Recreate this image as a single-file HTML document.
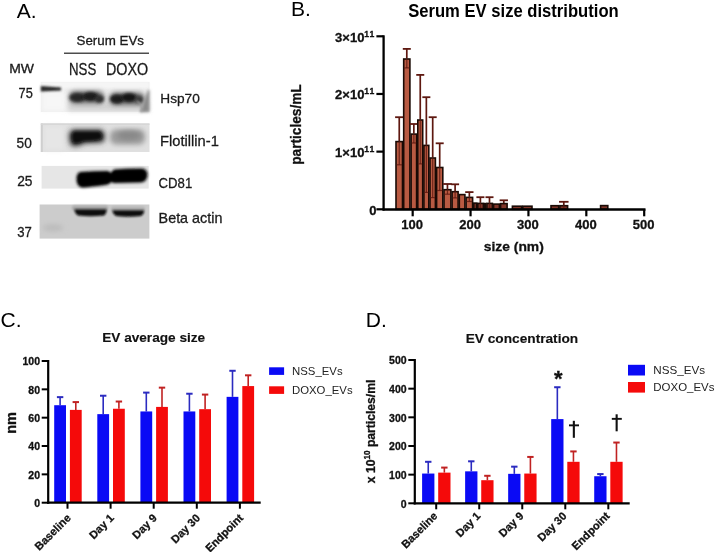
<!DOCTYPE html><html><head><meta charset="utf-8"><style>html,body{margin:0;padding:0;background:#fff;width:716px;height:552px;overflow:hidden}svg{display:block;will-change:transform}text{font-family:"Liberation Sans", sans-serif}text[font-weight="bold"]{stroke:#111;stroke-width:0.3px}text[fill="#1b1b1b"]{stroke:#1b1b1b;stroke-width:0.3px}</style></head><body>
<svg width="716" height="552" viewBox="0 0 716 552">
<defs><filter id="b1" x="-50%" y="-50%" width="200%" height="200%"><feGaussianBlur stdDeviation="1.6"/></filter><filter id="b2" x="-50%" y="-50%" width="200%" height="200%"><feGaussianBlur stdDeviation="2.5"/></filter><filter id="b3" x="-50%" y="-50%" width="200%" height="200%"><feGaussianBlur stdDeviation="1"/></filter><filter id="b4" x="-50%" y="-50%" width="200%" height="200%"><feGaussianBlur stdDeviation="4"/></filter></defs>
<rect width="716" height="552" fill="#fff"/>
<text x="16.8" y="18" font-size="21" font-weight="normal" text-anchor="start" fill="#000" >A.</text>
<text x="291" y="15.5" font-size="21" font-weight="normal" text-anchor="start" fill="#000" >B.</text>
<text x="0.6" y="326.8" font-size="21" font-weight="normal" text-anchor="start" fill="#000" >C.</text>
<text x="365.8" y="327.3" font-size="21" font-weight="normal" text-anchor="start" fill="#000" >D.</text>
<text x="76.5" y="45.4" font-size="13.3" font-weight="normal" text-anchor="start" fill="#1b1b1b" textLength="67.5" lengthAdjust="spacingAndGlyphs" >Serum EVs</text>
<rect x="64" y="52.6" width="85" height="1.2" fill="#222"/>
<text x="69.0" y="74.7" font-size="16.4" font-weight="normal" text-anchor="start" fill="#1b1b1b" textLength="27.2" lengthAdjust="spacingAndGlyphs" >NSS</text>
<text x="106.0" y="75.3" font-size="16.4" font-weight="normal" text-anchor="start" fill="#1b1b1b" textLength="42.2" lengthAdjust="spacingAndGlyphs" >DOXO</text>
<text x="9.2" y="73.4" font-size="12.5" font-weight="normal" text-anchor="start" fill="#1b1b1b" textLength="24.8" lengthAdjust="spacingAndGlyphs" >MW</text>
<text x="18.6" y="97.9" font-size="14.2" font-weight="normal" text-anchor="start" fill="#1b1b1b" textLength="14.2" lengthAdjust="spacingAndGlyphs" >75</text>
<text x="16.6" y="147.6" font-size="14.2" font-weight="normal" text-anchor="start" fill="#1b1b1b" textLength="15.2" lengthAdjust="spacingAndGlyphs" >50</text>
<text x="17.2" y="186" font-size="14.2" font-weight="normal" text-anchor="start" fill="#1b1b1b" textLength="15.3" lengthAdjust="spacingAndGlyphs" >25</text>
<text x="17.2" y="236.6" font-size="14.5" font-weight="normal" text-anchor="start" fill="#1b1b1b" textLength="14.6" lengthAdjust="spacingAndGlyphs" >37</text>
<text x="160.3" y="103.2" font-size="13.7" font-weight="normal" text-anchor="start" fill="#1b1b1b" textLength="39.5" lengthAdjust="spacingAndGlyphs" >Hsp70</text>
<text x="160.0" y="145.7" font-size="15" font-weight="normal" text-anchor="start" fill="#1b1b1b" textLength="58.8" lengthAdjust="spacingAndGlyphs" >Flotillin-1</text>
<text x="158.6" y="188.2" font-size="14.6" font-weight="normal" text-anchor="start" fill="#1b1b1b" textLength="33.6" lengthAdjust="spacingAndGlyphs" >CD81</text>
<text x="158.6" y="223.1" font-size="14.3" font-weight="normal" text-anchor="start" fill="#1b1b1b" textLength="63.8" lengthAdjust="spacingAndGlyphs" >Beta actin</text>
<rect x="40.8" y="82" width="108.7" height="30" fill="#eeeeee"/>
<rect x="41" y="82" width="108" height="6" fill="#f5f5f5" filter="url(#b3)"/>
<rect x="42" y="92" width="24" height="19" fill="#f7f7f7" filter="url(#b2)"/>
<rect x="68" y="102" width="80" height="9" fill="#d2d2d2" filter="url(#b2)"/>
<path d="M40.8,86 L61,87.5 L61,90.5 L40.8,91.5 Z" fill="#2a2a2a" filter="url(#b3)"/>
<rect x="69" y="91" width="35" height="12.5" rx="5.5" fill="#6a6a6a" filter="url(#b2)"/>
<ellipse cx="77.5" cy="97.5" rx="8" ry="4.6" fill="#262626" filter="url(#b1)"/>
<ellipse cx="90.5" cy="96.5" rx="8" ry="4.6" fill="#1a1a1a" filter="url(#b1)"/>
<ellipse cx="99.5" cy="99" rx="4.5" ry="3.8" fill="#2e2e2e" filter="url(#b1)"/>
<rect x="109.5" y="92.5" width="35" height="12.5" rx="5.5" fill="#676767" filter="url(#b2)"/>
<ellipse cx="117" cy="99" rx="7" ry="4.6" fill="#1e1e1e" filter="url(#b1)"/>
<ellipse cx="129" cy="97.5" rx="8" ry="4.6" fill="#181818" filter="url(#b1)"/>
<ellipse cx="139" cy="99.5" rx="4" ry="3.5" fill="#3a3a3a" filter="url(#b1)"/>
<path d="M148,90 L149.5,90 L149.5,112 L140,112 Q143,106 144,101 Z" fill="#8a8a8a" filter="url(#b1)"/>
<path d="M137,101 Q141,104 142,108 L141,112" stroke="#9a9a9a" stroke-width="1.6" fill="none" filter="url(#b3)"/>
<rect x="40.8" y="123.4" width="108.7" height="28.6" fill="#e0e0e0"/>
<rect x="44" y="126" width="20" height="24" fill="#e6e6e6" filter="url(#b2)"/>
<rect x="40.8" y="123.4" width="2" height="28.6" fill="#cfcfcf"/>
<rect x="40.8" y="123.4" width="108.7" height="1.5" fill="#d6d6d6"/>
<path d="M72,129.5 L101,129.5 Q105.5,131 105,138 Q104.5,143 99,143 L85,143.5 Q76,148 71,145.5 Q68,140 69,133 Z" fill="#3a3a3a" filter="url(#b2)"/>
<path d="M74,131.5 L99,131.5 Q102.5,133 102,138 Q100,141 84,141 Q76,144.5 73,142.5 Q71,138 72,134 Z" fill="#0e0e0e" filter="url(#b1)"/>
<rect x="110" y="129.5" width="35" height="15" rx="6" fill="#9c9c9c" filter="url(#b2)"/>
<ellipse cx="129" cy="135.5" rx="12" ry="4.5" fill="#888" filter="url(#b2)"/>
<rect x="41.6" y="165.9" width="107.1" height="22.7" fill="#e6e6e6"/>
<path d="M80,172 Q93,171 108,171 L111,173 L114,169.5 Q128,168.3 143,168.5 Q148,170 147.5,175.5 Q147,182 140,182.5 L114,183 L111,182 L108,184.5 Q90,187 82,187.5 Q76.5,186.5 76.5,179 Q76.5,173 80,172 Z" fill="#101010" filter="url(#b1)"/>
<path d="M81,173.5 Q93,172.5 108,172.5 L111,174.5 L114,171 Q128,170 142,170 Q146,171.5 145.5,175.5 Q145,180.5 140,181 L114,181.5 L111,180.5 L108,183 Q90,185.5 82,186 Q78,185 78,179 Q78,174.5 81,173.5 Z" fill="#000" filter="url(#b3)"/>
<rect x="39.6" y="204.5" width="109.8" height="34.1" fill="#cccccc"/>
<rect x="72" y="205.5" width="36" height="5" rx="2" fill="#aaaaaa" filter="url(#b3)"/>
<rect x="111" y="206.5" width="34" height="5" rx="2" fill="#b2b2b2" filter="url(#b3)"/>
<path d="M74.5,209.3 L106.5,209.3 Q107,213 104,215.5 Q90,217 78,215.5 Q74.5,213.5 74.5,209.3 Z" fill="#0a0a0a" filter="url(#b3)"/>
<path d="M112.5,210.3 L144,210.3 Q144.5,214 141,216 Q128,217.3 116,216 Q112.5,214 112.5,210.3 Z" fill="#0a0a0a" filter="url(#b3)"/>
<ellipse cx="53" cy="227.8" rx="10.5" ry="3.5" fill="#bbbbbb" filter="url(#b2)"/>
<text x="408.2" y="16.8" font-size="17.5" font-weight="bold" text-anchor="start" fill="#000" textLength="210.5" lengthAdjust="spacingAndGlyphs" style="stroke-width:0">Serum EV size distribution</text>
<line x1="399.25" y1="117.2" x2="399.25" y2="141" stroke="#5e1810" stroke-width="1.7"/>
<line x1="395.10" y1="117.2" x2="403.40" y2="117.2" stroke="#5e1810" stroke-width="1.8"/>
<rect x="396.00" y="141.60" width="6.50" height="67.70" fill="#b95a42" stroke="#1a0a05" stroke-width="1.6"/>
<line x1="399.25" y1="141" x2="399.25" y2="164.80" stroke="#5e1810" stroke-width="1.2" opacity="0.8"/>
<line x1="396.40" y1="164.80" x2="402.10" y2="164.80" stroke="#5e1810" stroke-width="1.2" opacity="0.8"/>
<line x1="406.80" y1="48.9" x2="406.80" y2="58.4" stroke="#5e1810" stroke-width="1.7"/>
<line x1="402.80" y1="48.9" x2="410.80" y2="48.9" stroke="#5e1810" stroke-width="1.8"/>
<rect x="403.70" y="59.00" width="6.20" height="150.30" fill="#b95a42" stroke="#1a0a05" stroke-width="1.6"/>
<line x1="406.80" y1="58.4" x2="406.80" y2="67.90" stroke="#5e1810" stroke-width="1.2" opacity="0.8"/>
<line x1="404.10" y1="67.90" x2="409.50" y2="67.90" stroke="#5e1810" stroke-width="1.2" opacity="0.8"/>
<line x1="413.85" y1="124" x2="413.85" y2="133.5" stroke="#5e1810" stroke-width="1.7"/>
<line x1="409.85" y1="124" x2="417.85" y2="124" stroke="#5e1810" stroke-width="1.8"/>
<rect x="411.10" y="134.10" width="5.50" height="75.20" fill="#b95a42" stroke="#1a0a05" stroke-width="1.6"/>
<line x1="413.85" y1="133.5" x2="413.85" y2="143.00" stroke="#5e1810" stroke-width="1.2" opacity="0.8"/>
<line x1="411.50" y1="143.00" x2="416.20" y2="143.00" stroke="#5e1810" stroke-width="1.2" opacity="0.8"/>
<line x1="420.25" y1="74.9" x2="420.25" y2="119.4" stroke="#5e1810" stroke-width="1.7"/>
<line x1="416.25" y1="74.9" x2="424.25" y2="74.9" stroke="#5e1810" stroke-width="1.8"/>
<rect x="417.80" y="120.00" width="4.90" height="89.30" fill="#b95a42" stroke="#1a0a05" stroke-width="1.6"/>
<line x1="420.25" y1="119.4" x2="420.25" y2="163.90" stroke="#5e1810" stroke-width="1.2" opacity="0.8"/>
<line x1="418.20" y1="163.90" x2="422.30" y2="163.90" stroke="#5e1810" stroke-width="1.2" opacity="0.8"/>
<line x1="426.35" y1="97.2" x2="426.35" y2="144.8" stroke="#5e1810" stroke-width="1.7"/>
<line x1="422.35" y1="97.2" x2="430.35" y2="97.2" stroke="#5e1810" stroke-width="1.8"/>
<rect x="423.90" y="145.40" width="4.90" height="63.90" fill="#b95a42" stroke="#1a0a05" stroke-width="1.6"/>
<line x1="426.35" y1="144.8" x2="426.35" y2="192.40" stroke="#5e1810" stroke-width="1.2" opacity="0.8"/>
<line x1="424.30" y1="192.40" x2="428.40" y2="192.40" stroke="#5e1810" stroke-width="1.2" opacity="0.8"/>
<line x1="432.70" y1="117.2" x2="432.70" y2="157.4" stroke="#5e1810" stroke-width="1.7"/>
<line x1="428.70" y1="117.2" x2="436.70" y2="117.2" stroke="#5e1810" stroke-width="1.8"/>
<rect x="430.00" y="158.00" width="5.40" height="51.30" fill="#b95a42" stroke="#1a0a05" stroke-width="1.6"/>
<line x1="432.70" y1="157.4" x2="432.70" y2="197.60" stroke="#5e1810" stroke-width="1.2" opacity="0.8"/>
<line x1="430.40" y1="197.60" x2="435.00" y2="197.60" stroke="#5e1810" stroke-width="1.2" opacity="0.8"/>
<line x1="439.70" y1="143.3" x2="439.70" y2="166.9" stroke="#5e1810" stroke-width="1.7"/>
<line x1="435.70" y1="143.3" x2="443.70" y2="143.3" stroke="#5e1810" stroke-width="1.8"/>
<rect x="436.60" y="167.50" width="6.20" height="41.80" fill="#b95a42" stroke="#1a0a05" stroke-width="1.6"/>
<line x1="439.70" y1="166.9" x2="439.70" y2="190.50" stroke="#5e1810" stroke-width="1.2" opacity="0.8"/>
<line x1="437.00" y1="190.50" x2="442.40" y2="190.50" stroke="#5e1810" stroke-width="1.2" opacity="0.8"/>
<line x1="447.45" y1="184" x2="447.45" y2="189.1" stroke="#5e1810" stroke-width="1.7"/>
<line x1="443.10" y1="184" x2="451.80" y2="184" stroke="#5e1810" stroke-width="1.8"/>
<rect x="444.00" y="189.70" width="6.90" height="19.60" fill="#b95a42" stroke="#1a0a05" stroke-width="1.6"/>
<line x1="447.45" y1="189.1" x2="447.45" y2="194.20" stroke="#5e1810" stroke-width="1.2" opacity="0.8"/>
<line x1="444.40" y1="194.20" x2="450.50" y2="194.20" stroke="#5e1810" stroke-width="1.2" opacity="0.8"/>
<line x1="455.10" y1="184.3" x2="455.10" y2="191.1" stroke="#5e1810" stroke-width="1.7"/>
<line x1="451.10" y1="184.3" x2="459.10" y2="184.3" stroke="#5e1810" stroke-width="1.8"/>
<rect x="452.10" y="191.70" width="6.00" height="17.60" fill="#b95a42" stroke="#1a0a05" stroke-width="1.6"/>
<line x1="455.10" y1="191.1" x2="455.10" y2="197.90" stroke="#5e1810" stroke-width="1.2" opacity="0.8"/>
<line x1="452.50" y1="197.90" x2="457.70" y2="197.90" stroke="#5e1810" stroke-width="1.2" opacity="0.8"/>
<rect x="459.30" y="194.60" width="5.60" height="14.70" fill="#b95a42" stroke="#1a0a05" stroke-width="1.6"/>
<line x1="469.35" y1="192.1" x2="469.35" y2="196.8" stroke="#5e1810" stroke-width="1.7"/>
<line x1="465.20" y1="192.1" x2="473.50" y2="192.1" stroke="#5e1810" stroke-width="1.8"/>
<rect x="466.10" y="197.40" width="6.50" height="11.90" fill="#b95a42" stroke="#1a0a05" stroke-width="1.6"/>
<line x1="469.35" y1="196.8" x2="469.35" y2="201.50" stroke="#5e1810" stroke-width="1.2" opacity="0.8"/>
<line x1="466.50" y1="201.50" x2="472.20" y2="201.50" stroke="#5e1810" stroke-width="1.2" opacity="0.8"/>
<rect x="473.80" y="203.10" width="2.80" height="6.20" fill="#80362a" stroke="#1a0a05" stroke-width="1.6"/>
<line x1="480.40" y1="197.2" x2="480.40" y2="202.8" stroke="#5e1810" stroke-width="1.7"/>
<line x1="476.40" y1="197.2" x2="484.40" y2="197.2" stroke="#5e1810" stroke-width="1.8"/>
<rect x="477.80" y="203.40" width="5.60" height="5.90" fill="#80362a" stroke="#1a0a05" stroke-width="1.6"/>
<line x1="480.40" y1="202.8" x2="480.40" y2="208.30" stroke="#5e1810" stroke-width="1.2" opacity="0.8"/>
<line x1="478.20" y1="208.30" x2="483.00" y2="208.30" stroke="#5e1810" stroke-width="1.2" opacity="0.8"/>
<rect x="484.60" y="203.60" width="1.10" height="5.70" fill="#80362a" stroke="#1a0a05" stroke-width="1.6"/>
<line x1="489.50" y1="197.2" x2="489.50" y2="202.8" stroke="#5e1810" stroke-width="1.7"/>
<line x1="485.50" y1="197.2" x2="493.50" y2="197.2" stroke="#5e1810" stroke-width="1.8"/>
<rect x="486.90" y="203.40" width="5.50" height="5.90" fill="#80362a" stroke="#1a0a05" stroke-width="1.6"/>
<line x1="489.50" y1="202.8" x2="489.50" y2="208.30" stroke="#5e1810" stroke-width="1.2" opacity="0.8"/>
<line x1="487.30" y1="208.30" x2="492.00" y2="208.30" stroke="#5e1810" stroke-width="1.2" opacity="0.8"/>
<rect x="493.60" y="204.10" width="5.80" height="5.20" fill="#80362a" stroke="#1a0a05" stroke-width="1.6"/>
<line x1="503.80" y1="200.3" x2="503.80" y2="203.0" stroke="#5e1810" stroke-width="1.7"/>
<line x1="499.65" y1="200.3" x2="507.95" y2="200.3" stroke="#5e1810" stroke-width="1.8"/>
<rect x="500.60" y="203.60" width="6.50" height="5.70" fill="#80362a" stroke="#1a0a05" stroke-width="1.6"/>
<rect x="512.40" y="206.20" width="9.20" height="3.10" fill="#80362a" stroke="#1a0a05" stroke-width="1.6"/>
<rect x="522.80" y="206.20" width="9.20" height="3.10" fill="#80362a" stroke="#1a0a05" stroke-width="1.6"/>
<rect x="551.00" y="205.70" width="7.70" height="3.60" fill="#80362a" stroke="#1a0a05" stroke-width="1.6"/>
<line x1="563.80" y1="201.8" x2="563.80" y2="205.1" stroke="#5e1810" stroke-width="1.7"/>
<line x1="559.05" y1="201.8" x2="568.55" y2="201.8" stroke="#5e1810" stroke-width="1.8"/>
<rect x="559.90" y="205.70" width="7.70" height="3.60" fill="#80362a" stroke="#1a0a05" stroke-width="1.6"/>
<line x1="563.80" y1="205.1" x2="563.80" y2="208.30" stroke="#5e1810" stroke-width="1.2" opacity="0.8"/>
<line x1="560.30" y1="208.30" x2="567.20" y2="208.30" stroke="#5e1810" stroke-width="1.2" opacity="0.8"/>
<rect x="600.60" y="205.60" width="7.20" height="3.70" fill="#80362a" stroke="#1a0a05" stroke-width="1.6"/>
<line x1="383.6" y1="35.3" x2="383.6" y2="210.5" stroke="#000" stroke-width="2.3"/>
<line x1="382.6" y1="209.5" x2="645.5" y2="209.5" stroke="#000" stroke-width="2.7"/>
<line x1="376.4" y1="209.30" x2="383.6" y2="209.30" stroke="#000" stroke-width="2.2"/>
<line x1="376.4" y1="151.63" x2="383.6" y2="151.63" stroke="#000" stroke-width="2.2"/>
<line x1="376.4" y1="93.97" x2="383.6" y2="93.97" stroke="#000" stroke-width="2.2"/>
<line x1="376.4" y1="36.30" x2="383.6" y2="36.30" stroke="#000" stroke-width="2.2"/>
<line x1="412.68" y1="209.3" x2="412.68" y2="216.3" stroke="#000" stroke-width="2.2"/>
<text x="412.18" y="228.7" font-size="13" font-weight="bold" text-anchor="middle" fill="#111" >100</text>
<line x1="470.56" y1="209.3" x2="470.56" y2="216.3" stroke="#000" stroke-width="2.2"/>
<text x="470.06" y="228.7" font-size="13" font-weight="bold" text-anchor="middle" fill="#111" >200</text>
<line x1="528.44" y1="209.3" x2="528.44" y2="216.3" stroke="#000" stroke-width="2.2"/>
<text x="527.94" y="228.7" font-size="13" font-weight="bold" text-anchor="middle" fill="#111" >300</text>
<line x1="586.32" y1="209.3" x2="586.32" y2="216.3" stroke="#000" stroke-width="2.2"/>
<text x="585.82" y="228.7" font-size="13" font-weight="bold" text-anchor="middle" fill="#111" >400</text>
<line x1="644.20" y1="209.3" x2="644.20" y2="216.3" stroke="#000" stroke-width="2.2"/>
<text x="643.70" y="228.7" font-size="13" font-weight="bold" text-anchor="middle" fill="#111" >500</text>
<text x="364.4" y="157.13" font-size="13" font-weight="bold" text-anchor="end" fill="#111">1×10</text>
<text x="364.3" y="152.13" font-size="8.6" font-weight="bold" letter-spacing="1" fill="#111">11</text>
<text x="364.4" y="99.47" font-size="13" font-weight="bold" text-anchor="end" fill="#111">2×10</text>
<text x="364.3" y="94.47" font-size="8.6" font-weight="bold" letter-spacing="1" fill="#111">11</text>
<text x="364.4" y="41.80" font-size="13" font-weight="bold" text-anchor="end" fill="#111">3×10</text>
<text x="364.3" y="36.80" font-size="8.6" font-weight="bold" letter-spacing="1" fill="#111">11</text>
<text x="376.6" y="214.6" font-size="13" font-weight="bold" text-anchor="end" fill="#111" >0</text>
<text x="483.8" y="250.7" font-size="13.5" font-weight="bold" text-anchor="start" fill="#111" textLength="60" lengthAdjust="spacingAndGlyphs" >size (nm)</text>
<text x="0" y="0" font-size="14.2" font-weight="bold" fill="#111" textLength="80.5" lengthAdjust="spacingAndGlyphs" stroke="#111" stroke-width="0.35" transform="translate(300.9,164.8) rotate(-90)">particles/mL</text>
<line x1="60.10" y1="397.13" x2="60.10" y2="405.21" stroke="#2b2bc0" stroke-width="1.6"/>
<line x1="56.90" y1="397.13" x2="63.30" y2="397.13" stroke="#2b2bc0" stroke-width="2"/>
<rect x="54.20" y="405.21" width="11.8" height="97.49" fill="#0a0af5"/>
<line x1="75.80" y1="402.09" x2="75.80" y2="409.89" stroke="#c02222" stroke-width="1.6"/>
<line x1="72.60" y1="402.09" x2="79.00" y2="402.09" stroke="#c02222" stroke-width="2"/>
<rect x="69.90" y="409.89" width="11.8" height="92.81" fill="#f50a0a"/>
<line x1="103.20" y1="395.72" x2="103.20" y2="414.14" stroke="#2b2bc0" stroke-width="1.6"/>
<line x1="100.00" y1="395.72" x2="106.40" y2="395.72" stroke="#2b2bc0" stroke-width="2"/>
<rect x="97.30" y="414.14" width="11.8" height="88.56" fill="#0a0af5"/>
<line x1="118.90" y1="401.53" x2="118.90" y2="408.75" stroke="#c02222" stroke-width="1.6"/>
<line x1="115.70" y1="401.53" x2="122.10" y2="401.53" stroke="#c02222" stroke-width="2"/>
<rect x="113.00" y="408.75" width="11.8" height="93.95" fill="#f50a0a"/>
<line x1="146.30" y1="392.60" x2="146.30" y2="411.45" stroke="#2b2bc0" stroke-width="1.6"/>
<line x1="143.10" y1="392.60" x2="149.50" y2="392.60" stroke="#2b2bc0" stroke-width="2"/>
<rect x="140.40" y="411.45" width="11.8" height="91.25" fill="#0a0af5"/>
<line x1="162.00" y1="387.64" x2="162.00" y2="406.91" stroke="#c02222" stroke-width="1.6"/>
<line x1="158.80" y1="387.64" x2="165.20" y2="387.64" stroke="#c02222" stroke-width="2"/>
<rect x="156.10" y="406.91" width="11.8" height="95.79" fill="#f50a0a"/>
<line x1="189.40" y1="393.73" x2="189.40" y2="411.45" stroke="#2b2bc0" stroke-width="1.6"/>
<line x1="186.20" y1="393.73" x2="192.60" y2="393.73" stroke="#2b2bc0" stroke-width="2"/>
<rect x="183.50" y="411.45" width="11.8" height="91.25" fill="#0a0af5"/>
<line x1="205.10" y1="394.58" x2="205.10" y2="409.18" stroke="#c02222" stroke-width="1.6"/>
<line x1="201.90" y1="394.58" x2="208.30" y2="394.58" stroke="#c02222" stroke-width="2"/>
<rect x="199.20" y="409.18" width="11.8" height="93.52" fill="#f50a0a"/>
<line x1="232.50" y1="370.78" x2="232.50" y2="396.85" stroke="#2b2bc0" stroke-width="1.6"/>
<line x1="229.30" y1="370.78" x2="235.70" y2="370.78" stroke="#2b2bc0" stroke-width="2"/>
<rect x="226.60" y="396.85" width="11.8" height="105.85" fill="#0a0af5"/>
<line x1="248.20" y1="375.31" x2="248.20" y2="386.08" stroke="#c02222" stroke-width="1.6"/>
<line x1="245.00" y1="375.31" x2="251.40" y2="375.31" stroke="#c02222" stroke-width="2"/>
<rect x="242.30" y="386.08" width="11.8" height="116.62" fill="#f50a0a"/>
<line x1="48.2" y1="360" x2="48.2" y2="503.8" stroke="#000" stroke-width="2.2"/>
<line x1="47.1" y1="502.7" x2="260.7" y2="502.7" stroke="#000" stroke-width="2.2"/>
<line x1="41.7" y1="502.70" x2="48.2" y2="502.70" stroke="#000" stroke-width="2"/>
<text x="40.0" y="506.90" font-size="10.5" font-weight="bold" text-anchor="end" fill="#111">0</text>
<line x1="41.7" y1="474.36" x2="48.2" y2="474.36" stroke="#000" stroke-width="2"/>
<text x="40.0" y="478.56" font-size="10.5" font-weight="bold" text-anchor="end" fill="#111">20</text>
<line x1="41.7" y1="446.02" x2="48.2" y2="446.02" stroke="#000" stroke-width="2"/>
<text x="40.0" y="450.22" font-size="10.5" font-weight="bold" text-anchor="end" fill="#111">40</text>
<line x1="41.7" y1="417.68" x2="48.2" y2="417.68" stroke="#000" stroke-width="2"/>
<text x="40.0" y="421.88" font-size="10.5" font-weight="bold" text-anchor="end" fill="#111">60</text>
<line x1="41.7" y1="389.34" x2="48.2" y2="389.34" stroke="#000" stroke-width="2"/>
<text x="40.0" y="393.54" font-size="10.5" font-weight="bold" text-anchor="end" fill="#111">80</text>
<line x1="41.7" y1="361.00" x2="48.2" y2="361.00" stroke="#000" stroke-width="2"/>
<text x="40.0" y="365.20" font-size="10.5" font-weight="bold" text-anchor="end" fill="#111">100</text>
<line x1="67.50" y1="502.7" x2="67.50" y2="508.7" stroke="#000" stroke-width="2"/>
<text x="0" y="0" font-size="11.1" font-weight="bold" text-anchor="end" fill="#111" transform="translate(71.50,518.70) rotate(-45)">Baseline</text>
<line x1="110.60" y1="502.7" x2="110.60" y2="508.7" stroke="#000" stroke-width="2"/>
<text x="0" y="0" font-size="11.1" font-weight="bold" text-anchor="end" fill="#111" transform="translate(114.60,518.70) rotate(-45)">Day 1</text>
<line x1="153.70" y1="502.7" x2="153.70" y2="508.7" stroke="#000" stroke-width="2"/>
<text x="0" y="0" font-size="11.1" font-weight="bold" text-anchor="end" fill="#111" transform="translate(157.70,518.70) rotate(-45)">Day 9</text>
<line x1="196.80" y1="502.7" x2="196.80" y2="508.7" stroke="#000" stroke-width="2"/>
<text x="0" y="0" font-size="11.1" font-weight="bold" text-anchor="end" fill="#111" transform="translate(200.80,518.70) rotate(-45)">Day 30</text>
<line x1="239.90" y1="502.7" x2="239.90" y2="508.7" stroke="#000" stroke-width="2"/>
<text x="0" y="0" font-size="11.1" font-weight="bold" text-anchor="end" fill="#111" transform="translate(243.90,518.70) rotate(-45)">Endpoint</text>
<line x1="428.25" y1="461.80" x2="428.25" y2="473.55" stroke="#2b2bc0" stroke-width="1.6"/>
<line x1="425.05" y1="461.80" x2="431.45" y2="461.80" stroke="#2b2bc0" stroke-width="2"/>
<rect x="422.10" y="473.55" width="12.3" height="29.75" fill="#0a0af5"/>
<line x1="444.35" y1="467.59" x2="444.35" y2="472.63" stroke="#c02222" stroke-width="1.6"/>
<line x1="441.15" y1="467.59" x2="447.55" y2="467.59" stroke="#c02222" stroke-width="2"/>
<rect x="438.20" y="472.63" width="12.3" height="30.67" fill="#f50a0a"/>
<line x1="471.28" y1="461.31" x2="471.28" y2="471.34" stroke="#2b2bc0" stroke-width="1.6"/>
<line x1="468.08" y1="461.31" x2="474.48" y2="461.31" stroke="#2b2bc0" stroke-width="2"/>
<rect x="465.13" y="471.34" width="12.3" height="31.96" fill="#0a0af5"/>
<line x1="487.38" y1="475.79" x2="487.38" y2="480.20" stroke="#c02222" stroke-width="1.6"/>
<line x1="484.18" y1="475.79" x2="490.58" y2="475.79" stroke="#c02222" stroke-width="2"/>
<rect x="481.23" y="480.20" width="12.3" height="23.10" fill="#f50a0a"/>
<line x1="514.31" y1="466.67" x2="514.31" y2="473.84" stroke="#2b2bc0" stroke-width="1.6"/>
<line x1="511.11" y1="466.67" x2="517.51" y2="466.67" stroke="#2b2bc0" stroke-width="2"/>
<rect x="508.16" y="473.84" width="12.3" height="29.46" fill="#0a0af5"/>
<line x1="530.41" y1="456.93" x2="530.41" y2="473.55" stroke="#c02222" stroke-width="1.6"/>
<line x1="527.21" y1="456.93" x2="533.61" y2="456.93" stroke="#c02222" stroke-width="2"/>
<rect x="524.26" y="473.55" width="12.3" height="29.75" fill="#f50a0a"/>
<line x1="557.34" y1="387.23" x2="557.34" y2="419.10" stroke="#2b2bc0" stroke-width="1.6"/>
<line x1="554.14" y1="387.23" x2="560.54" y2="387.23" stroke="#2b2bc0" stroke-width="2"/>
<rect x="551.19" y="419.10" width="12.3" height="84.20" fill="#0a0af5"/>
<line x1="573.44" y1="451.43" x2="573.44" y2="461.80" stroke="#c02222" stroke-width="1.6"/>
<line x1="570.24" y1="451.43" x2="576.64" y2="451.43" stroke="#c02222" stroke-width="2"/>
<rect x="567.29" y="461.80" width="12.3" height="41.50" fill="#f50a0a"/>
<line x1="600.37" y1="474.07" x2="600.37" y2="476.24" stroke="#2b2bc0" stroke-width="1.6"/>
<line x1="597.17" y1="474.07" x2="603.57" y2="474.07" stroke="#2b2bc0" stroke-width="2"/>
<rect x="594.22" y="476.24" width="12.3" height="27.06" fill="#0a0af5"/>
<line x1="616.47" y1="442.54" x2="616.47" y2="461.80" stroke="#c02222" stroke-width="1.6"/>
<line x1="613.27" y1="442.54" x2="619.67" y2="442.54" stroke="#c02222" stroke-width="2"/>
<rect x="610.32" y="461.80" width="12.3" height="41.50" fill="#f50a0a"/>
<line x1="414.8" y1="359" x2="414.8" y2="504.40000000000003" stroke="#000" stroke-width="2.2"/>
<line x1="413.7" y1="503.3" x2="629.7" y2="503.3" stroke="#000" stroke-width="2.2"/>
<line x1="408.3" y1="503.30" x2="414.8" y2="503.30" stroke="#000" stroke-width="2"/>
<text x="406.6" y="507.50" font-size="10.5" font-weight="bold" text-anchor="end" fill="#111">0</text>
<line x1="408.3" y1="474.64" x2="414.8" y2="474.64" stroke="#000" stroke-width="2"/>
<text x="406.6" y="478.84" font-size="10.5" font-weight="bold" text-anchor="end" fill="#111">100</text>
<line x1="408.3" y1="445.98" x2="414.8" y2="445.98" stroke="#000" stroke-width="2"/>
<text x="406.6" y="450.18" font-size="10.5" font-weight="bold" text-anchor="end" fill="#111">200</text>
<line x1="408.3" y1="417.32" x2="414.8" y2="417.32" stroke="#000" stroke-width="2"/>
<text x="406.6" y="421.52" font-size="10.5" font-weight="bold" text-anchor="end" fill="#111">300</text>
<line x1="408.3" y1="388.66" x2="414.8" y2="388.66" stroke="#000" stroke-width="2"/>
<text x="406.6" y="392.86" font-size="10.5" font-weight="bold" text-anchor="end" fill="#111">400</text>
<line x1="408.3" y1="360.00" x2="414.8" y2="360.00" stroke="#000" stroke-width="2"/>
<text x="406.6" y="364.20" font-size="10.5" font-weight="bold" text-anchor="end" fill="#111">500</text>
<line x1="436.20" y1="503.3" x2="436.20" y2="509.3" stroke="#000" stroke-width="2"/>
<text x="0" y="0" font-size="11.1" font-weight="bold" text-anchor="end" fill="#111" transform="translate(438.20,516.70) rotate(-45)">Baseline</text>
<line x1="479.23" y1="503.3" x2="479.23" y2="509.3" stroke="#000" stroke-width="2"/>
<text x="0" y="0" font-size="11.1" font-weight="bold" text-anchor="end" fill="#111" transform="translate(481.23,516.70) rotate(-45)">Day 1</text>
<line x1="522.26" y1="503.3" x2="522.26" y2="509.3" stroke="#000" stroke-width="2"/>
<text x="0" y="0" font-size="11.1" font-weight="bold" text-anchor="end" fill="#111" transform="translate(524.26,516.70) rotate(-45)">Day 9</text>
<line x1="565.29" y1="503.3" x2="565.29" y2="509.3" stroke="#000" stroke-width="2"/>
<text x="0" y="0" font-size="11.1" font-weight="bold" text-anchor="end" fill="#111" transform="translate(567.29,516.70) rotate(-45)">Day 30</text>
<line x1="608.32" y1="503.3" x2="608.32" y2="509.3" stroke="#000" stroke-width="2"/>
<text x="0" y="0" font-size="11.1" font-weight="bold" text-anchor="end" fill="#111" transform="translate(610.32,516.70) rotate(-45)">Endpoint</text>
<text x="102.2" y="342.3" font-size="13.7" font-weight="bold" text-anchor="start" fill="#111" textLength="103" lengthAdjust="spacingAndGlyphs" style="stroke-width:0.15px">EV average size</text>
<text x="465.7" y="342.8" font-size="13.7" font-weight="bold" text-anchor="start" fill="#111" textLength="112.5" lengthAdjust="spacingAndGlyphs" style="stroke-width:0.15px">EV concentration</text>
<text x="0" y="0" font-size="14.5" font-weight="bold" fill="#111" transform="translate(16.3,433.8) rotate(-90)">nm</text>
<text x="0" y="0" font-size="12.15" font-weight="bold" fill="#111" transform="translate(375.4,483.2) rotate(-90)">x 10<tspan font-size="8.2" dy="-5.6">10</tspan><tspan dy="5.6"> particles/ml</tspan></text>
<rect x="269.1" y="367.3" width="15" height="7.6" fill="#0a0af5"/>
<rect x="269.1" y="386.3" width="15" height="7.6" fill="#f50a0a"/>
<rect x="628" y="364.8" width="17" height="10.7" fill="#0a0af5"/>
<rect x="628" y="382" width="17" height="10.6" fill="#f50a0a"/>
<text x="292.0" y="374.8" font-size="11.2" font-weight="normal" text-anchor="start" fill="#222" textLength="50.6" lengthAdjust="spacingAndGlyphs" >NSS_EVs</text>
<text x="292.0" y="393.8" font-size="11.2" font-weight="normal" text-anchor="start" fill="#222" textLength="60.6" lengthAdjust="spacingAndGlyphs" >DOXO_EVs</text>
<text x="653.3" y="374.1" font-size="11.5" font-weight="normal" text-anchor="start" fill="#222" textLength="51.8" lengthAdjust="spacingAndGlyphs" >NSS_EVs</text>
<text x="653.3" y="390.9" font-size="11.5" font-weight="normal" text-anchor="start" fill="#222" textLength="61.2" lengthAdjust="spacingAndGlyphs" >DOXO_EVs</text>
<text x="558.2" y="385.8" font-size="22" font-weight="bold" text-anchor="middle" fill="#111" >*</text>
<rect x="572.80" y="420.8" width="2.1" height="17" fill="#111"/>
<rect x="569.00" y="424.40" width="10" height="1.9" fill="#111"/>
<rect x="615.60" y="414.3" width="2.1" height="17" fill="#111"/>
<rect x="611.80" y="417.90" width="10" height="1.9" fill="#111"/>
</svg></body></html>
